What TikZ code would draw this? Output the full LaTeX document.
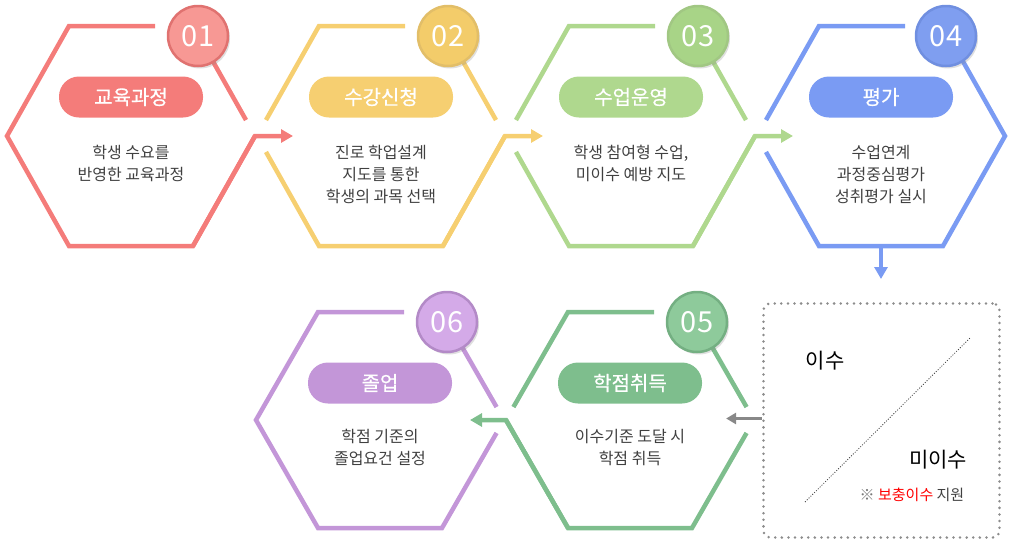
\documentclass[tikz,border=0pt]{standalone}
\usepackage{fontspec}
\setmainfont{Noto Sans CJK KR}
\newfontfamily\krmid{Noto Sans CJK KR}[FakeBold=0.5]
\usetikzlibrary{arrows.meta,calc,shadows}
\definecolor{hxred}{RGB}{244,124,122}
\definecolor{hxredlt}{RGB}{247,152,148}
\definecolor{hxyellow}{RGB}{246,207,113}
\definecolor{hxyellowlt}{RGB}{243,204,106}
\definecolor{hxlime}{RGB}{175,216,142}
\definecolor{hxlimelt}{RGB}{168,212,135}
\definecolor{hxblue}{RGB}{122,155,243}
\definecolor{hxbluelt}{RGB}{127,158,240}
\definecolor{hxgreen}{RGB}{126,190,141}
\definecolor{hxgreenlt}{RGB}{142,202,155}
\definecolor{hxpurple}{RGB}{195,150,216}
\definecolor{hxpurplelt}{RGB}{212,170,232}
\definecolor{txgray}{RGB}{64,64,64}
\definecolor{boxgray}{RGB}{140,140,140}
\definecolor{arrgray}{RGB}{136,136,136}
\definecolor{notegray}{RGB}{120,120,120}
\definecolor{notered}{RGB}{255,0,0}

\tikzset{
  hexline/.style={line width=4.5pt},
  flow/.style={line width=4.5pt, -{Triangle[length=12pt,width=13pt]}},
  numdot/.style={circle, minimum size=60pt, inner sep=0pt, line width=2.5pt,
    text=white, font=\fontsize{29}{29}\selectfont,
    drop shadow={shadow xshift=2pt, shadow yshift=-2.5pt, opacity=.25}},
  pill/.style={rounded corners=20pt, minimum width=144pt, minimum height=41pt,
    inner sep=0pt, text=white, font=\krmid\fontsize{20}{20}\selectfont},
  desc/.style={align=center, anchor=north, inner sep=0pt, text=txgray,
    font=\fontsize{16}{22}\selectfont},
}

\begin{document}
\begin{tikzpicture}[x=1pt, y=-1pt]
  \useasboundingbox (0,0) rectangle (1010,544);
  % Hexagon corners
  \foreach \n/\cx/\cy/\h in {1/131/136/110, 2/381/136/110, 3/631/136/110,
                             4/881/136/110, 5/630/420/108, 6/380/420/108} {
    \coordinate (h\n-l)  at (\cx-124,\cy);
    \coordinate (h\n-tl) at (\cx-62,\cy-\h);
    \coordinate (h\n-tr) at (\cx+62,\cy-\h);
    \coordinate (h\n-r)  at (\cx+124,\cy);
    \coordinate (h\n-br) at (\cx+62,\cy+\h);
    \coordinate (h\n-bl) at (\cx-62,\cy+\h);
    \coordinate (h\n-gt) at (\cx+24,\cy-\h);
  }
  \coordinate (a1) at ($(h1-r)+(38,0)$);
  \coordinate (a2) at ($(h2-r)+(38,0)$);
  \coordinate (a3) at ($(h3-r)+(38,0)$);
  \coordinate (h4-b) at ($(h4-bl)!.5!(h4-br)$);
  \coordinate (a4) at ($(h4-b)+(0,33)$);
  \coordinate (a5) at ($(h5-l)+(-36,0)$);

  % 01 curriculum
  \draw[hexline, hxred] (h1-gt) -- (h1-tl) -- (h1-l) -- (h1-bl) -- (h1-br) -- (h1-r);
  \draw[hexline, hxred] (h1-tr) -- ($(h1-tr)!.855!(h1-r)$);
  \draw[flow, hxred] (h1-br) -- (h1-r) -- (a1);
  % 02 course registration
  \draw[hexline, hxyellow] ($(h2-tl)!.855!(h2-l)$) -- (h2-tl) -- (h2-gt);
  \draw[hexline, hxyellow] (h2-tr) -- ($(h2-tr)!.855!(h2-r)$);
  \draw[hexline, hxyellow] ($(h2-bl)!.855!(h2-l)$) -- (h2-bl) -- (h2-br) -- (h2-r);
  \draw[flow, hxyellow] (h2-br) -- (h2-r) -- (a2);
  % 03 class operation
  \draw[hexline, hxlime] ($(h3-tl)!.855!(h3-l)$) -- (h3-tl) -- (h3-gt);
  \draw[hexline, hxlime] (h3-tr) -- ($(h3-tr)!.855!(h3-r)$);
  \draw[hexline, hxlime] ($(h3-bl)!.855!(h3-l)$) -- (h3-bl) -- (h3-br) -- (h3-r);
  \draw[flow, hxlime] (h3-br) -- (h3-r) -- (a3);
  % 04 evaluation
  \draw[hexline, hxblue] ($(h4-tl)!.855!(h4-l)$) -- (h4-tl) -- (h4-gt);
  \draw[hexline, hxblue] ($(h4-bl)!.855!(h4-l)$) -- (h4-bl) -- (h4-br) -- (h4-r) -- (h4-tr);
  \draw[flow, hxblue] (h4-b) -- (a4);
  % 05 credits
  \draw[hexline, hxgreen] ($(h5-tl)!.88!(h5-l)$) -- (h5-tl) -- (h5-gt);
  \draw[hexline, hxgreen] (h5-tr) -- ($(h5-tr)!.88!(h5-r)$);
  \draw[hexline, hxgreen] ($(h5-br)!.88!(h5-r)$) -- (h5-br) -- (h5-bl) -- (h5-l);
  \draw[flow, hxgreen] (h5-bl) -- (h5-l) -- (a5);
  % 06 graduation
  \draw[hexline, hxpurple] (h6-gt) -- (h6-tl) -- (h6-l) -- (h6-bl) -- (h6-br) -- ($(h6-br)!.88!(h6-r)$);
  \draw[hexline, hxpurple] (h6-tr) -- ($(h6-tr)!.88!(h6-r)$);

  % Number badges
  \foreach \n/\cx/\cy/\col/\num in {1/131/136/hxred/01, 2/381/136/hxyellow/02,
      3/631/136/hxlime/03, 4/879/136/hxblue/04, 5/630/422/hxgreen/05, 6/380/422/hxpurple/06} {
    \node[numdot, fill=\col lt, draw=\col!92!black] (n\n) at (\cx+67,\cy-100) {\num};
  }

  % Titles
  \node[pill, fill=hxred]    (p1) at (131,97)  {교육과정};
  \node[pill, fill=hxyellow] (p2) at (381,97)  {수강신청};
  \node[pill, fill=hxlime]   (p3) at (631,97)  {수업운영};
  \node[pill, fill=hxblue]   (p4) at (881,97)  {평가};
  \node[pill, fill=hxgreen]  (p5) at (630,383) {학점취득};
  \node[pill, fill=hxpurple] (p6) at (380,383) {졸업};

  % Descriptions
  \node[desc] (d1) at (131,145) {학생 수요를\\반영한 교육과정};
  \node[desc] (d2) at (381,145) {진로 학업설계\\지도를 통한\\학생의 과목 선택};
  \node[desc] (d3) at (631,145) {학생 참여형 수업,\\미이수 예방 지도};
  \node[desc] (d4) at (881,145) {수업연계\\과정중심평가\\성취평가 실시};
  \node[desc] (d5) at (630,429) {이수기준 도달 시\\학점 취득};
  \node[desc] (d6) at (380,429) {학점 기준의\\졸업요건 설정};

  % Completion box
  \node[draw=boxgray, line width=2.8pt, dash pattern=on 0pt off 6.6pt, line cap=round,
        rounded corners=7pt, minimum width=236pt, minimum height=234pt] (box) at (881.5,420.5) {};
  \draw[txgray, line width=0.8pt, dash pattern=on 1pt off 1.6pt] (805,502) -- (970,338);
  \node[font=\fontsize{21}{21}\selectfont] (isu) at (825,361) {이수};
  \node[font=\fontsize{21}{21}\selectfont] (misu) at (938,460) {미이수};
  \node[font=\fontsize{15}{15}\selectfont, text=txgray] (note) at (912,495)
    {\textcolor{notegray}{※} \textcolor{notered}{보충이수} 지원};
  \coordinate (gtip) at ($(box.west)+(-36,-2)$);
  \draw[line width=3.5pt, arrgray, -{Triangle[length=10pt,width=11pt]}] ($(box.west)+(0,-2)$) -- (gtip);
\end{tikzpicture}
\end{document}
